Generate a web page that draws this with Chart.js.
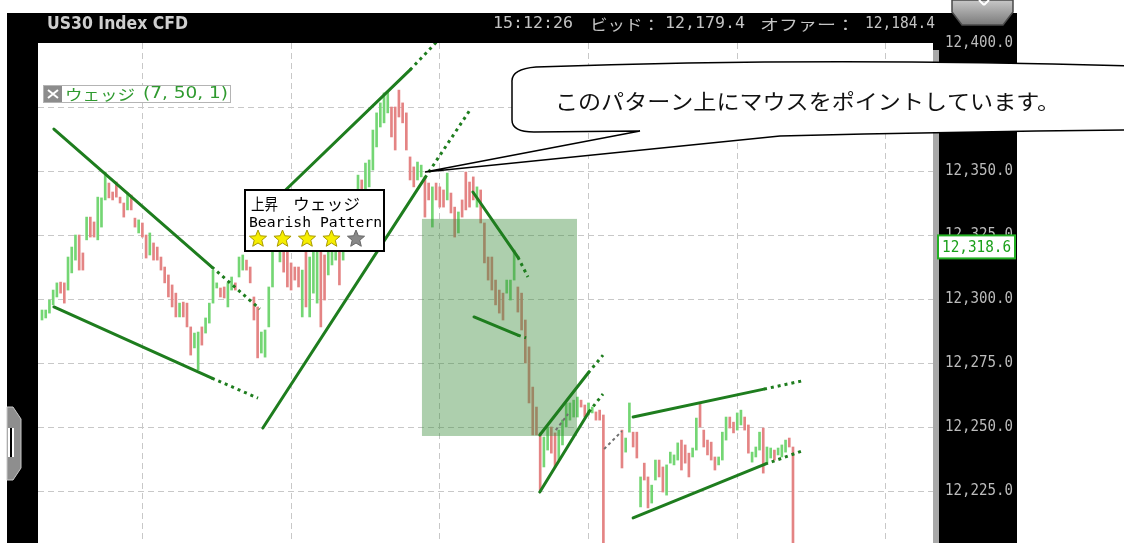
<!DOCTYPE html>
<html lang="ja">
<head>
<meta charset="UTF-8" />
<title>US30 Index CFD ウェッジ</title>
<style>
  html, body { margin: 0; padding: 0; background: #fff; overflow: hidden; }
  #wrap { width: 1124px; height: 543px; }
</style>
</head>
<body>
<div id="wrap"><canvas id="chart" width="1124" height="543"></canvas></div>

<script src="https://cdn.jsdelivr.net/npm/chart.js"></script>
<script>
// 足ごとの始値・終値（null = 空白）
const opens = [
  12291.8, 12292.6, 12294.5, 12297.7, 12300.8, 12306.6, 12306.3, 12303.5, 12310.2, 12315.2,
  12325.0, 12318.0, 12323.1, 12332.0, 12330.1, 12323.1, 12328.1, 12338.7, 12345.3, 12341.8,
  12345.7, 12339.8, 12337.5, 12334.8, 12340.6, 12331.6, 12325.8, 12329.7, 12325.0, 12317.2,
  12321.9, 12320.3, 12316.4, 12312.5, 12309.4, 12305.5, 12302.3, 12293.0, 12298.8, 12298.4,
  12289.1, 12280.9, 12272.3, 12289.1, 12286.7, 12290.6, 12298.4, 12304.3, 12304.3, 12304.7,
  12296.9, 12303.5, 12306.3, 12308.6, 12311.3, 12315.2, 12312.5, 12300.8, 12296.9, 12278.9,
  12277.3, 12289.1, 12304.7,
  12321.9, 12314.5, 12325.0, 12319.1, 12314.1, 12312.5, 12312.5, 12293.0, 12320.3, 12293.0,
  12302.3, 12298.4, 12319.1, 12317.2, 12309.4, 12313.3, 12315.2, 12330.9, 12315.2, 12321.1,
  12332.8, 12325.0, 12328.9, 12346.5, 12330.9, 12343.8,
  12350.4, 12359.4, 12367.2, 12368.8, 12372.7, 12375.0, 12375.0, 12381.6, 12376.6, 12372.7,
  12355.5, 12351.6, 12346.5, 12347.7, 12347.7, 12345.3, 12328.1, 12345.3, 12343.8, 12342.6,
  12338.7, 12341.4, 12335.9, 12325.8, 12338.7, 12349.6, 12345.7, 12347.7, 12335.9, 12342.6,
  12329.7, 12316.4, 12316.4, 12307.4, 12303.5, 12302.3, 12302.3, 12299.6, 12307.4, 12304.7,
  12302.3, 12291.8, 12281.3, 12265.6, 12257.8, 12247.7, 12234.4, 12241.0, 12250.0, 12247.7,
  12237.1, 12243.0, 12250.0, 12252.7, 12253.9, 12253.9, 12260.5, 12258.6, 12254.7, 12255.5,
  12255.9, 12256.6, 12254.7,
  null, null, null, null,
  12248.8, 12240.2, 12248.0, 12248.0, 12248.0, 12218.8, 12235.9, 12230.5, 12220.3, 12229.3,
  12237.1, 12234.4, 12223.4, 12235.9, 12235.2, 12237.1, 12244.9, 12243.0, 12239.8, 12238.3,
  12241.0, 12259.4, 12248.8, 12244.9, 12244.1, 12238.3, 12235.2, 12237.1, 12244.9, 12253.9,
  12251.9, 12248.8, 12250.8, 12253.9, 12250.8, 12236.3, 12238.3, 12241.0, 12249.6, 12235.9,
  12237.9, 12241.0, 12239.1, 12238.3, 12240.2, 12245.7, 12242.2
];
const closes = [
  12295.7, 12295.7, 12299.6, 12303.5, 12306.3, 12302.3, 12298.4, 12316.4, 12320.3, 12325.0,
  12311.3, 12311.3, 12332.0, 12324.2, 12324.2, 12339.8, 12339.5, 12349.6, 12339.5, 12338.7,
  12339.8, 12337.5, 12332.0, 12341.4, 12334.8, 12328.1, 12330.9, 12324.2, 12316.0, 12325.8,
  12315.2, 12315.2, 12311.3, 12306.3, 12300.8, 12296.9, 12293.0, 12298.4, 12293.0, 12289.1,
  12278.1, 12286.7, 12287.1, 12282.0, 12292.6, 12298.4, 12311.3, 12306.3, 12300.8, 12300.4,
  12306.3, 12308.6, 12303.5, 12316.4, 12317.2, 12311.3, 12306.3, 12291.8, 12277.0, 12287.1,
  12287.9, 12304.7, 12320.3,
  12334.0, 12328.9, 12310.5, 12304.7, 12303.5, 12307.4, 12304.7, 12311.3, 12296.9, 12316.4,
  12320.3, 12321.9, 12289.1, 12299.6, 12327.0, 12321.1, 12332.8, 12305.5, 12327.0, 12336.7,
  12319.1, 12342.6, 12348.4, 12332.8, 12353.1, 12354.3,
  12366.0, 12372.7, 12376.6, 12380.5, 12380.9, 12363.3, 12358.2, 12371.1, 12368.8, 12358.2,
  12346.5, 12343.8, 12353.5, 12352.3, 12332.0, 12338.7, 12343.8, 12338.7, 12335.9, 12335.9,
  12349.2, 12333.6, 12324.2, 12334.0, 12332.0, 12334.8, 12335.9, 12338.7, 12343.8, 12329.7,
  12314.1, 12307.4, 12303.5, 12297.7, 12294.5, 12291.8, 12307.4, 12307.4, 12319.1, 12294.9,
  12287.9, 12275.0, 12259.4, 12246.9, 12246.9, 12225.4, 12246.1, 12250.0, 12239.8, 12234.4,
  12248.8, 12252.7, 12259.4, 12259.4, 12260.5, 12261.7, 12257.8, 12253.9, 12259.4, 12257.8,
  12252.7, 12252.7, 12200.0,
  null, null, null, null,
  12234.0, 12245.7, 12259.4, 12242.2, 12237.9, 12230.5, 12229.3, 12218.4, 12227.3, 12237.1,
  12230.5, 12224.6, 12235.2, 12240.2, 12239.1, 12243.8, 12233.2, 12235.9, 12230.5, 12241.8,
  12253.5, 12250.0, 12242.2, 12239.1, 12237.1, 12233.2, 12238.3, 12248.0, 12253.9, 12249.6,
  12247.7, 12255.5, 12256.6, 12248.8, 12239.8, 12240.2, 12242.2, 12248.0, 12232.0, 12242.2,
  12241.8, 12237.1, 12241.8, 12243.0, 12244.9, 12242.2, 12200.0
];

const priceTicks = [12225, 12250, 12275, 12300, 12325, 12350, 12375, 12400];
const timeTicks = [27, 67, 107, 147, 187, 227];

// ウェッジのライン [x1, y1, x2, y2]（足番号, 価格）
const solidLines = [
  [3.2, 12366.4, 45.7, 12312.5],
  [3.2, 12296.9, 45.7, 12269.1],
  [59.4, 12334.0, 99.0, 12389.5],
  [59.4, 12249.6, 103.0, 12347.3],
  [115.9, 12341.8, 128.0, 12316.4],
  [116.2, 12293.0, 128.0, 12285.9],
  [133.9, 12246.9, 146.9, 12271.1],
  [133.9, 12224.6, 147.1, 12255.9],
  [159.0, 12253.9, 194.2, 12264.8],
  [159.0, 12214.5, 194.5, 12235.5]
];
const dottedLines = [
  [45.7, 12312.5, 58.6, 12296.1],
  [45.7, 12269.1, 58.1, 12261.3],
  [99.0, 12389.5, 106.2, 12400.5],
  [103.0, 12347.3, 115.1, 12373.8],
  [128.0, 12316.4, 130.7, 12308.6],
  [128.0, 12285.9, 130.2, 12284.8],
  [146.9, 12271.1, 150.9, 12278.1],
  [147.1, 12255.9, 150.9, 12262.9],
  [194.2, 12264.8, 204.4, 12268.0],
  [194.5, 12235.5, 204.4, 12240.6]
];
const grayDashes = [
  [138.2, 12248.8, 141.5, 12255.1],
  [151.2, 12241.4, 156.0, 12248.4]
];
const zoneBox = [102.2, 143.9, 12246.5, 12331.3];   // x1, x2, 下, 上
const calloutTip = [103.0, 12349.6];
const lastPrice = 12318.6;
const stars = [1, 1, 1, 1, 0];

const UP = '#74d674';
const DOWN = '#e48484';
const LINE = '#1e7d1e';

function fitText(c, text, x, y, w, font, color) {
  c.save();
  c.font = font;
  c.fillStyle = color;
  c.textBaseline = 'middle';
  c.textAlign = 'left';
  const m = c.measureText(text).width;
  c.translate(x, y);
  c.scale(w / m, 1);
  c.fillText(text, 0, 0);
  c.restore();
}

function drawStar(c, cx, cy, R, r, fill, stroke) {
  c.beginPath();
  for (let k = 0; k < 10; k++) {
    const ang = -Math.PI / 2 + k * Math.PI / 5;
    const rad = k % 2 ? r : R;
    c.lineTo(cx + rad * Math.cos(ang), cy + rad * Math.sin(ang));
  }
  c.closePath();
  c.fillStyle = fill;
  c.fill();
  c.strokeStyle = stroke;
  c.lineWidth = 1;
  c.stroke();
}

const fmt = v => v.toLocaleString('en-US', { minimumFractionDigits: 1, maximumFractionDigits: 1 });

const frame = {
  id: 'frame',
  beforeDraw(chart) {
    const c = chart.ctx, a = chart.chartArea;
    c.save();
    c.fillStyle = '#fff';
    c.fillRect(0, 0, chart.width, chart.height);
    c.fillStyle = '#000';
    c.fillRect(7, 13, 1010, chart.height - 13);
    c.fillStyle = '#fff';
    c.fillRect(a.left, a.top, a.right - a.left, a.bottom - a.top);
    c.fillStyle = '#a8a8a8';
    c.fillRect(a.right, a.top + 7, 6, a.bottom - a.top - 7);

    // タイトルバー
    fitText(c, 'US30 Index CFD', 47, 25, 141, 'bold 17px "DejaVu Sans"', '#cfcfcf');
    const hd = '15px "DejaVu Sans Mono"', hj = '15px "Noto Sans CJK JP"', hc = '#c4c4c4';
    fitText(c, '15:12:26', 493, 24, 80, hd, hc);
    fitText(c, 'ビッド：', 590, 24, 70, hj, hc);
    fitText(c, '12,179.4', 665, 24, 80, hd, hc);
    fitText(c, 'オファー：', 760, 24, 95, hj, hc);
    fitText(c, '12,184.4', 865, 24, 70, hd, hc);

    // 左のハンドル
    c.beginPath();
    c.moveTo(7, 407); c.lineTo(13, 407); c.lineTo(21, 419); c.lineTo(21, 468);
    c.lineTo(13, 480); c.lineTo(7, 480); c.closePath();
    c.fillStyle = '#8e8e8e'; c.fill();
    c.strokeStyle = '#c8c8c8'; c.lineWidth = 1; c.stroke();
    c.fillStyle = '#fff'; c.fillRect(8, 428, 2, 29); c.fillRect(12, 428, 2, 29);
    c.fillStyle = '#000'; c.fillRect(10, 428, 2, 29);
    c.restore();
  },
  afterDatasetDraw(chart, args) {
    if (args.index !== 0) return;
    const c = chart.ctx, x = chart.scales.x, y = chart.scales.y;
    const x1 = x.getPixelForValue(zoneBox[0]), x2 = x.getPixelForValue(zoneBox[1]);
    const y1 = y.getPixelForValue(zoneBox[3]), y2 = y.getPixelForValue(zoneBox[2]);
    c.save();
    c.fillStyle = 'rgba(60,140,60,0.42)';
    c.fillRect(x1, y1, x2 - x1, y2 - y1);
    c.restore();
  },
  afterDraw(chart) {
    const c = chart.ctx, a = chart.chartArea, xs = chart.scales.x, ys = chart.scales.y;
    c.save();
    // 価格目盛
    ys.ticks.forEach(t => {
      fitText(c, fmt(t.value), a.right + 12, ys.getPixelForValue(t.value), 68, '16px "DejaVu Sans Mono"', '#bcbcbc');
    });
    // 現在値
    const py = ys.getPixelForValue(lastPrice) - 16;
    c.fillStyle = '#fff';
    c.fillRect(938, py, 77, 23);
    c.strokeStyle = '#22b022'; c.lineWidth = 2;
    c.strokeRect(938, py, 77, 23);
    fitText(c, fmt(lastPrice), 942, py + 12, 69, '16px "DejaVu Sans Mono"', '#1aa01a');

    // 凡例
    c.fillStyle = '#fff'; c.fillRect(43, 85, 187, 17);
    c.strokeStyle = '#b4b4b4'; c.lineWidth = 1; c.strokeRect(43.5, 85.5, 187, 17);
    c.fillStyle = '#8c8c8c'; c.fillRect(44, 86, 18, 16);
    c.strokeStyle = '#fff'; c.lineWidth = 2;
    c.beginPath(); c.moveTo(48, 90); c.lineTo(58, 98); c.moveTo(58, 90); c.lineTo(48, 98); c.stroke();
    fitText(c, 'ウェッジ', 65, 94, 70, '15px "Noto Sans CJK JP"', '#2f9a2f');
    fitText(c, '(7, 50, 1)', 143, 94, 85, '15px "DejaVu Sans"', '#2f9a2f');

    // パターン情報
    c.fillStyle = '#fff'; c.fillRect(244, 189, 141, 63);
    c.strokeStyle = '#000'; c.lineWidth = 2; c.strokeRect(245, 190, 139, 61);
    fitText(c, '上昇', 251, 204, 27, '16px "Noto Sans CJK JP"', '#000');
    fitText(c, 'ウェッジ', 293, 204, 67, '16px "Noto Sans CJK JP"', '#000');
    fitText(c, 'Bearish Pattern', 249, 223, 133, '14px "DejaVu Sans Mono"', '#000');
    stars.forEach((s, k) => {
      drawStar(c, 258 + k * 24.5, 239, 9, 4, s ? '#f6ee00' : '#888', s ? '#a89a00' : '#666');
    });

    // 吹き出し
    const tx = xs.getPixelForValue(calloutTip[0]), ty = ys.getPixelForValue(calloutTip[1]);
    c.beginPath();
    c.moveTo(512, 82);
    c.quadraticCurveTo(511, 69, 536, 67);
    c.quadraticCurveTo(820, 57, 1130, 66);
    c.lineTo(1130, 130);
    c.quadraticCurveTo(950, 132, 780, 136);
    c.lineTo(tx, ty);
    c.lineTo(640, 131);
    c.lineTo(534, 132);
    c.quadraticCurveTo(512, 132, 512, 120);
    c.closePath();
    c.fillStyle = '#fff'; c.fill();
    c.strokeStyle = '#000'; c.lineWidth = 1.5; c.stroke();
    fitText(c, 'このパターン上にマウスをポイントしています。', 555, 101, 505, '21px "Noto Sans CJK JP"', '#111');

    // 閉じるボタン
    c.beginPath();
    c.moveTo(952, 0); c.lineTo(1013, 0); c.lineTo(1013, 12); c.lineTo(1003, 25);
    c.lineTo(962, 25); c.lineTo(952, 12); c.closePath();
    const g = c.createLinearGradient(0, 0, 0, 25);
    g.addColorStop(0, '#c8c8c8'); g.addColorStop(1, '#7a7a7a');
    c.fillStyle = g; c.fill();
    c.strokeStyle = '#4a4a4a'; c.lineWidth = 1.5; c.stroke();
    c.strokeStyle = '#fff'; c.lineWidth = 2;
    c.beginPath(); c.moveTo(979, 0); c.lineTo(984, 5); c.moveTo(989, 0); c.lineTo(984, 5); c.stroke();
    c.restore();
  }
};

const bars = opens.map((o, i) => ({ x: i, y: o === null ? null : [o, closes[i]] }))
  .filter(b => b.y !== null);

function segSet(seg, dash, color, width) {
  return {
    type: 'line',
    data: [{ x: seg[0], y: seg[1] }, { x: seg[2], y: seg[3] }],
    borderColor: color,
    borderWidth: width,
    borderDash: dash,
    borderCapStyle: dash.length ? 'butt' : 'round',
    pointRadius: 0,
    fill: false,
    order: 1
  };
}

const datasets = [{
  type: 'bar',
  data: bars,
  backgroundColor: ctx => {
    const b = bars[ctx.dataIndex];
    return b && b.y[1] >= b.y[0] ? UP : DOWN;
  },
  borderWidth: 0,
  barThickness: 2,
  order: 10
}];
solidLines.forEach(s => datasets.push(segSet(s, [], LINE, 3)));
dottedLines.forEach(s => datasets.push(segSet(s, [3, 4], LINE, 3)));
grayDashes.forEach(s => datasets.push(segSet(s, [3, 3], '#707070', 2)));

new Chart(document.getElementById('chart'), {
  type: 'bar',
  data: { datasets },
  options: {
    responsive: false,
    animation: false,
    events: [],
    layout: { padding: { left: 38, top: 43, right: 107, bottom: 0 } },
    plugins: { legend: { display: false }, tooltip: { enabled: false } },
    scales: {
      x: {
        type: 'linear',
        min: -1.076,
        max: 239.66,
        offset: false,
        afterBuildTicks: s => { s.ticks = timeTicks.map(v => ({ value: v })); },
        ticks: { display: false },
        grid: { color: '#c8c8c8', drawTicks: false, offset: false },
        border: { display: false, dash: [6, 4] }
      },
      y: {
        type: 'linear',
        position: 'right',
        min: 12204.7,
        max: 12400,
        afterBuildTicks: s => { s.ticks = priceTicks.map(v => ({ value: v })); },
        afterFit: s => { s.width = 84; },
        ticks: { display: false },
        grid: {
          drawTicks: false,
          color: ctx => (ctx.tick && ctx.tick.value === 12400 ? 'rgba(0,0,0,0)' : '#c8c8c8')
        },
        border: { display: false, dash: [6, 4] }
      }
    }
  },
  plugins: [frame]
});
</script>
</body>
</html>
